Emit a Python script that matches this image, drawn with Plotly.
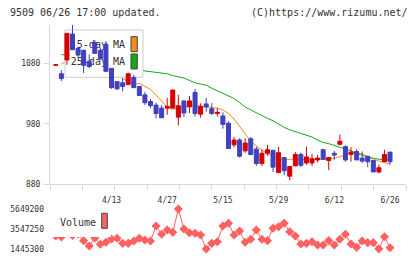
import plotly.graph_objects as go

dates = ["03/30","03/31","04/01","04/02","04/03","04/06","04/07","04/08","04/09","04/10",
         "04/13","04/14","04/15","04/16","04/17","04/20","04/21","04/22","04/23","04/24",
         "04/27","04/28","04/30","05/01","05/07","05/08","05/11","05/12","05/13","05/14",
         "05/15","05/18","05/19","05/20","05/21","05/22","05/25","05/26","05/27","05/28",
         "05/29","06/01","06/02","06/03","06/04","06/05","06/08","06/09","06/10","06/11",
         "06/12","06/15","06/16","06/17","06/18","06/19","06/22","06/23","06/24","06/25","06/26"]

opens  = [1077,1063,1086,1129,1105,1102,1084,1115,1102,1112,1072,1050,1048,1045,1057,1042,1028,1017,1011,1006,
          1006,1006,991,1018,1008,1032,996,1013,1005,997,993,981,945,953,935,955,938,914,931,936,
          899,924,893,910,929,915,915,920,937,919,931,946,942,929,934,923,926,919,900,917,933]
highs  = [1078,1069,1130,1144,1108,1103,1095,1119,1106,1117,1072,1051,1056,1065,1061,1042,1033,1021,1015,1011,
          1023,1036,1028,1018,1026,1038,1014,1023,1014,1006,999,984,958,956,956,958,942,937,945,936,
          942,924,909,933,932,942,930,928,938,924,935,962,944,941,938,934,926,919,912,937,933]
lows   = [1076,1051,1078,1103,1091,1064,1072,1097,1086,1067,1038,1036,1034,1045,1040,1027,1011,1006,989,990,
          995,1006,977,991,998,992,990,1000,995,992,972,939,941,924,932,929,910,910,927,900,
          898,895,886,910,908,912,910,916,920,903,920,944,917,917,920,915,908,900,898,917,912]
closes = [1078,1055,1130,1103,1094,1077,1075,1097,1088,1067,1040,1038,1042,1063,1040,1027,1015,1010,997,990,
          1009,1036,1010,998,1018,997,1009,1008,997,999,979,939,953,926,948,929,914,931,937,908,
          932,902,909,929,911,925,922,923,921,924,928,951,920,933,920,918,917,900,907,929,917]

ma5 = [None,1079,1085,1090,1092,1092,1096,1089,1086,1081,1073,1066,1055,1050,1046,1047,1042,1037,1028,1017,
       1007,1004,1006,1007,1011,1010,1010,1008,1007,1006,1003,997,988,976,962,951,943,936,930,927,
       922,921,921,921,921,921,920,920,920,921,923,925,929,932,932,930,926,921,918,916,913]
ma25 = [None,1095,1094,1092,1090,1089,1087,1085,1083,1080,1078,1075,1074,1072,1070,1069,1068,1067,1066,1065,
        1063,1060,1058,1056,1052,1048,1046,1044,1039,1035,1031,1027,1022,1015,1008,1003,998,993,989,985,
        979,974,970,967,964,961,958,953,949,947,944,942,939,935,931,927,924,923,921,921,920]

volume = [2810000,2710000,3650000,2860000,3020000,2320000,1760000,2600000,1940000,2150000,
          2500000,2570000,2040000,2040000,2290000,2570000,2390000,2290000,3860000,2990000,
          3440000,3200000,5649200,3550000,3160000,3100000,2920000,1445300,2040000,2210000,
          3860000,4150000,2920000,3340000,2150000,2470000,3440000,2470000,2320000,3620000,
          3790000,4150000,3260000,2810000,1970000,2040000,2210000,1870000,1870000,2320000,
          1870000,2470000,2990000,1970000,1620000,2290000,2110000,2110000,1460000,2740000,1570000]

price_ticks = [880, 980, 1080]
date_ticks = ["04/13", "04/27", "05/15", "05/29", "06/12", "06/26"]
date_labels = ["4/13", "4/27", "5/15", "5/29", "6/12", "6/26"]
vol_ticks = [1445300, 3547250, 5649200]
vol_labels = ["1445300", "3547250", "5649200"]

RED = "#d40000"
BLUE = "#4040c0"
ORANGE = "#f08c1e"
GREEN = "#18a818"
VOLC = "#ff6060"
TXT = "#333333"
GRID = "#d8d8d8"
MONO = "DejaVu Sans Mono"

XR = [-1.04, 62.87]

fig = go.Figure()

# moving averages (bottom layer)
fig.add_trace(go.Scatter(x=dates, y=ma5, mode="lines", line=dict(color=ORANGE, width=1),
                         xaxis="x", yaxis="y", showlegend=False, hoverinfo="skip"))
fig.add_trace(go.Scatter(x=dates, y=ma25, mode="lines", line=dict(color=GREEN, width=1),
                         xaxis="x", yaxis="y", showlegend=False, hoverinfo="skip"))

# legend box (middle layer, on unit overlay axes)
def rect(x0, x1, y0, y1, fill, border, axes=("x2", "y2")):
    return go.Scatter(x=[x0, x1, x1, x0, x0], y=[y0, y0, y1, y1, y0], mode="lines",
                      fill="toself", fillcolor=fill,
                      line=dict(color=border, width=1) if border else dict(width=0),
                      xaxis=axes[0], yaxis=axes[1], showlegend=False, hoverinfo="skip")

fig.add_trace(rect(0.0421, 0.2612, 0.671, 0.9686, "white", "#cccccc"))
fig.add_trace(rect(0.2275, 0.2452, 0.8321, 0.9264, ORANGE, "#444444"))
fig.add_trace(rect(0.2275, 0.2452, 0.7233, 0.8176, GREEN, "#444444"))
fig.add_trace(go.Scatter(x=[0.2107, 0.2107], y=[0.868, 0.764], mode="text",
                         text=["5-day MA", "25-day MA"], textposition="middle left",
                         textfont=dict(family=MONO, size=10, color=TXT),
                         xaxis="x2", yaxis="y2", showlegend=False, hoverinfo="skip"))

# candlesticks (top layer)
fig.add_trace(go.Candlestick(x=dates, open=opens, high=highs, low=lows, close=closes,
                             increasing=dict(line=dict(color=RED, width=1), fillcolor=RED),
                             decreasing=dict(line=dict(color=BLUE, width=1), fillcolor=BLUE),
                             whiskerwidth=0, xaxis="x3", yaxis="y3", showlegend=False))

# volume
fig.add_trace(go.Scatter(x=dates, y=volume, mode="lines+markers",
                         line=dict(color=VOLC, width=1),
                         marker=dict(symbol="diamond", size=7, color=VOLC),
                         cliponaxis=False, xaxis="x4", yaxis="y4", showlegend=False))

price_dom = [0.2902, 1.0]
vol_dom = [0.0, 0.1786]
PR = [880, 1144]

fig.update_layout(
    width=420, height=259,
    margin=dict(l=50, r=14, t=25, b=10, autoexpand=False),
    paper_bgcolor="white", plot_bgcolor="white",
    boxgap=0.28, boxgroupgap=0,
    font=dict(family=MONO, size=8, color=TXT),
    xaxis=dict(type="category", categoryorder="array", categoryarray=dates, range=XR,
               domain=[0, 1], anchor="y", showgrid=False, zeroline=False, automargin=False,
               showline=True, linecolor=GRID, linewidth=1,
               tickmode="array", tickvals=date_ticks, ticktext=date_labels,
               ticks="", ticklabelstandoff=8, rangeslider=dict(visible=False),
               tickfont=dict(family=MONO, size=8, color=TXT)),
    yaxis=dict(domain=price_dom, range=PR, anchor="x", showgrid=False, zeroline=False,
               automargin=False, showline=True, linecolor=GRID, linewidth=1,
               tickmode="array", tickvals=price_ticks, ticks="outside", ticklen=5,
               tickcolor=GRID, ticklabelstandoff=2,
               tickfont=dict(family=MONO, size=8, color=TXT)),
    xaxis2=dict(overlaying="x", anchor="y2", range=[0, 1], showgrid=False, zeroline=False,
                automargin=False, showline=False, showticklabels=False,
                tickmode="array", tickvals=[k / 11 for k in range(12)],
                ticks="outside", ticklen=5, tickcolor=GRID),
    yaxis2=dict(overlaying="y", anchor="x2", range=[0, 1], visible=False, automargin=False),
    xaxis3=dict(overlaying="x", anchor="y3", type="category", categoryorder="array",
                categoryarray=dates, range=XR, visible=False, automargin=False,
                rangeslider=dict(visible=False)),
    yaxis3=dict(overlaying="y", anchor="x3", range=PR, visible=False, automargin=False),
    xaxis4=dict(type="category", categoryorder="array", categoryarray=dates, range=XR,
                domain=[0, 1], anchor="y4", visible=False, automargin=False),
    yaxis4=dict(domain=vol_dom, anchor="x4", range=[vol_ticks[0], vol_ticks[-1]],
                showgrid=False, zeroline=False, showline=False, automargin=False,
                tickmode="array", tickvals=vol_ticks, ticktext=vol_labels,
                ticks="", ticklabelstandoff=5,
                tickfont=dict(family=MONO, size=8, color=TXT)),
    shapes=[
        dict(type="rect", xref="paper", yref="paper", x0=0.003, x1=0.1713, y0=0.0536, y1=0.1964,
             fillcolor="white", line=dict(width=0), layer="above"),
        dict(type="rect", xref="paper", yref="paper", x0=0.1452, x1=0.1610, y0=0.0924, y1=0.1594,
             fillcolor=VOLC, line=dict(color="#444444", width=1), layer="above"),
    ],
    annotations=[
        dict(text="Volume", xref="paper", yref="paper", x=0.0233, y=0.1183,
             xanchor="left", yanchor="middle", showarrow=False,
             font=dict(family=MONO, size=10, color=TXT)),
        dict(text="9509 06/26 17:00 updated.", xref="paper", yref="paper", x=-0.118, y=1.0536,
             xanchor="left", yanchor="middle", showarrow=False,
             font=dict(family=MONO, size=10, color=TXT)),
        dict(text="(C)https://www.rizumu.net/", xref="paper", yref="paper", x=1.01, y=1.0536,
             xanchor="right", yanchor="middle", showarrow=False,
             font=dict(family=MONO, size=10, color=TXT)),
    ],
)

fig.write_html("out.html")
